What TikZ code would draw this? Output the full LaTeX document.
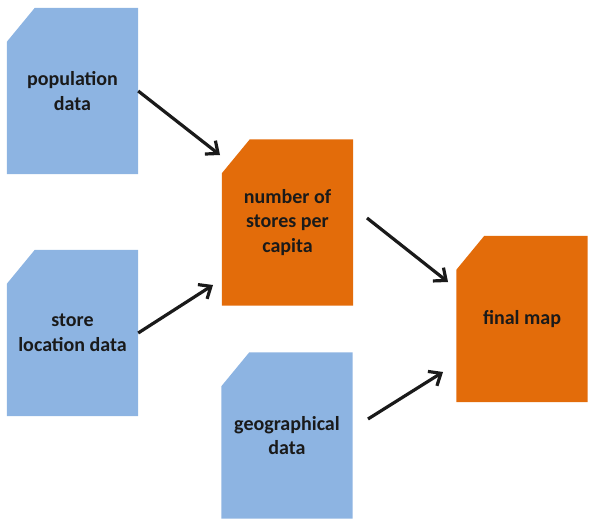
\documentclass[tikz,border=0pt]{standalone}
\usepackage{fontspec}
\setmainfont{Carlito}
\usetikzlibrary{arrows.meta,backgrounds,calc}
\definecolor{docblue}{HTML}{8DB4E2}
\definecolor{docorange}{HTML}{E36C0A}
\definecolor{ink}{HTML}{1A1A1A}
\begin{document}
\begin{tikzpicture}[x=1pt,y=-1pt,
  doc/.style={minimum width=131pt, minimum height=166pt, inner sep=0pt, align=center,
    font=\bfseries\fontsize{20}{24.5}\selectfont, text=ink},
  arr/.style={-{Straight Barb[length=10pt,width=17pt]}, line width=3.2pt, ink},
]
\useasboundingbox (0,0) rectangle (598,528);
\node[doc] (pop)   at (72.5,91)    {population\\data};
\node[doc] (store) at (72.5,333)   {store\\location data};
\node[doc] (num)   at (287.5,222.5){number of\\stores per\\capita};
\node[doc] (geo)   at (287,435.5)  {geographical\\data};
\node[doc] (final) at (522,319)    {final map};
\begin{scope}[on background layer]
  \foreach \n/\c in {pop/docblue,store/docblue,geo/docblue,num/docorange,final/docorange}
    \fill[\c] (\n.south west) -- ($(\n.north west)+(0,34)$) -- ($(\n.north west)+(28,0)$)
      -- (\n.north east) -- (\n.south east) -- cycle;
\end{scope}
\coordinate (a1e) at (220,155);
\coordinate (a2e) at (213,285);
\coordinate (a3s) at (367,218);
\coordinate (a3e) at (448,282);
\coordinate (a4s) at (368,419);
\coordinate (a4e) at (443,372);
\draw[arr] (pop.east) -- (a1e);
\draw[arr] (store.east) -- (a2e);
\draw[arr] (a3s) -- (a3e);
\draw[arr] (a4s) -- (a4e);
\end{tikzpicture}
\end{document}
